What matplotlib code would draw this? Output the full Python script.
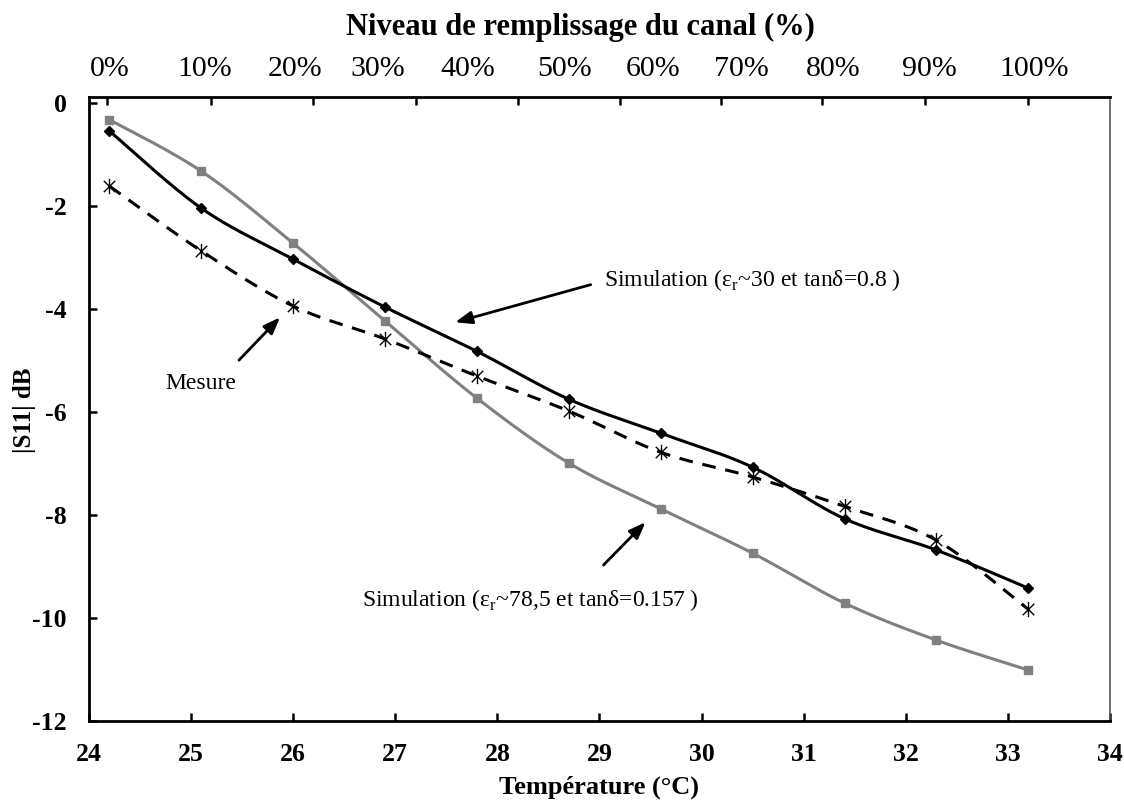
import numpy as np
import matplotlib
matplotlib.use("Agg")
import matplotlib.pyplot as plt
from matplotlib.path import Path

# ---- data ----
temperature = [24.2, 25.1, 26.0, 26.9, 27.8, 28.7, 29.6, 30.5, 31.4, 32.3, 33.2]
sim_785 = [-0.32, -1.32, -2.72, -4.23, -5.73, -6.99, -7.88, -8.74, -9.71, -10.43, -11.01]
sim_30 = [-0.54, -2.04, -3.03, -3.96, -4.82, -5.75, -6.41, -7.07, -8.07, -8.68, -9.42]
mesure = [-1.61, -2.87, -3.94, -4.58, -5.30, -5.98, -6.78, -7.26, -7.83, -8.49, -9.83]
x_ticks = [24, 25, 26, 27, 28, 29, 30, 31, 32, 33, 34]
y_ticks = [0, -2, -4, -6, -8, -10, -12]
fill_labels = ["0%", "10%", "20%", "30%", "40%", "50%", "60%", "70%", "80%", "90%", "100%"]
fill_label_x = [24.2, 25.13, 26.02, 26.83, 27.71, 28.66, 29.52, 30.39, 31.29, 32.23, 33.26]
top_ticks = [24.18, 25.19, 26.19, 27.2, 28.2, 29.2, 30.19, 31.18, 32.19, 33.2]


def smooth(x, y, n=30):
    P = np.column_stack([x, y]).astype(float)
    ext = np.vstack([P[0], P, P[-1]])
    out = []
    t = np.linspace(0, 1, n)[:, None]
    for i in range(len(P) - 1):
        p0, p3 = ext[i + 1], ext[i + 2]
        c1 = p0 + (ext[i + 2] - ext[i]) / 6.0
        c2 = p3 - (ext[i + 3] - ext[i + 1]) / 6.0
        seg = ((1 - t) ** 3) * p0 + 3 * ((1 - t) ** 2) * t * c1 + 3 * (1 - t) * t ** 2 * c2 + t ** 3 * p3
        out.append(seg if i == 0 else seg[1:])
    S = np.vstack(out)
    return S[:, 0], S[:, 1]


plt.rcParams['font.family'] = ['Liberation Serif', 'DejaVu Serif']
plt.rcParams['mathtext.fontset'] = 'custom'
plt.rcParams['mathtext.rm'] = 'Liberation Serif'

fig = plt.figure(figsize=(11.24, 8.02), dpi=100)
ax = fig.add_axes([0.0792, 0.101, 0.9083, 0.778])

gray = '#808080'
sx, sy = smooth(temperature, sim_785)
ax.plot(sx, sy, color=gray, lw=2.2, zorder=2)
ax.plot(temperature, sim_785, ls='none', marker='s', ms=6, color=gray, zorder=3)

sx, sy = smooth(temperature, sim_30)
ax.plot(sx, sy, color='black', lw=2.2, zorder=4)
ax.plot(temperature, sim_30, ls='none', marker='D', ms=5.5, color='black', zorder=5)

ast = Path([(0, -1), (0, 1), (-0.75, -0.75), (0.75, 0.75), (-0.75, 0.75), (0.75, -0.75)],
           [Path.MOVETO, Path.LINETO, Path.MOVETO, Path.LINETO, Path.MOVETO, Path.LINETO])
sx, sy = smooth(temperature, mesure)
ax.plot(sx, sy, color='black', lw=2.2, ls=(0, (4.5, 3.2)), zorder=4)
ax.plot(temperature, mesure, ls='none', marker=ast, ms=11, mew=1.0, mec='black', zorder=6)

ax.set_xlim(24, 34)
ax.set_ylim(-12, 0.12)
ax.set_xticks(x_ticks)
ax.set_yticks(y_ticks)
ax.set_xticklabels([str(v) for v in x_ticks], fontsize=18.5, fontweight='bold')
ax.set_yticklabels([str(v) for v in y_ticks], fontsize=18.5, fontweight='bold')
ax.tick_params(axis='x', direction='in', length=6, width=1.8, pad=16)
ax.tick_params(axis='y', direction='in', length=6, width=1.8, pad=16)
for s in ['left', 'bottom', 'top']:
    ax.spines[s].set_linewidth(2.0)
ax.spines['right'].set_linewidth(1.2)
ax.spines['right'].set_color('#555555')

ax2 = ax.twiny()
ax2.set_xlim(24, 34)
ax2.set_xticks(top_ticks)
ax2.set_xticklabels([])
ax2.tick_params(axis='x', direction='in', length=6, width=1.8)
for s in ax2.spines.values():
    s.set_visible(False)

for lab, xv in zip(fill_labels, fill_label_x):
    ax.text(xv, 1.045, lab, transform=ax.get_xaxis_transform(), ha='center', va='center',
            fontsize=21.5)
fig.text(0.516, 0.966, "Niveau de remplissage du canal (%)", ha='center', va='center',
         fontsize=22, fontweight='bold')

ax.set_xlabel("Température (°C)", fontsize=19, fontweight='bold', labelpad=7)
fig.text(0.022, 0.489, "|S11| dB", rotation=90, ha='center', va='center', fontsize=18,
         fontweight='bold')

arrow = dict(arrowstyle='-|>,head_length=1.0,head_width=0.38', color='black', lw=2)
ax.annotate("", xy=(27.56, -4.27), xytext=(28.94, -3.51), arrowprops=arrow)
ax.text(29.04, -3.44, r"Simulation (ε$_\mathrm{r}$~30 et tanδ=0.8 )", fontsize=17,
        ha='left', va='center')
ax.annotate("", xy=(25.89, -4.12), xytext=(25.45, -5.03), arrowprops=arrow)
ax.text(25.09, -5.44, "Mesure", fontsize=17, ha='center', va='center')
ax.annotate("", xy=(29.47, -8.10), xytext=(29.02, -9.01), arrowprops=arrow)
ax.text(26.67, -9.65, r"Simulation (ε$_\mathrm{r}$~78,5 et tanδ=0.157 )", fontsize=17,
        ha='left', va='center')

fig.savefig("out.png", dpi=100)
